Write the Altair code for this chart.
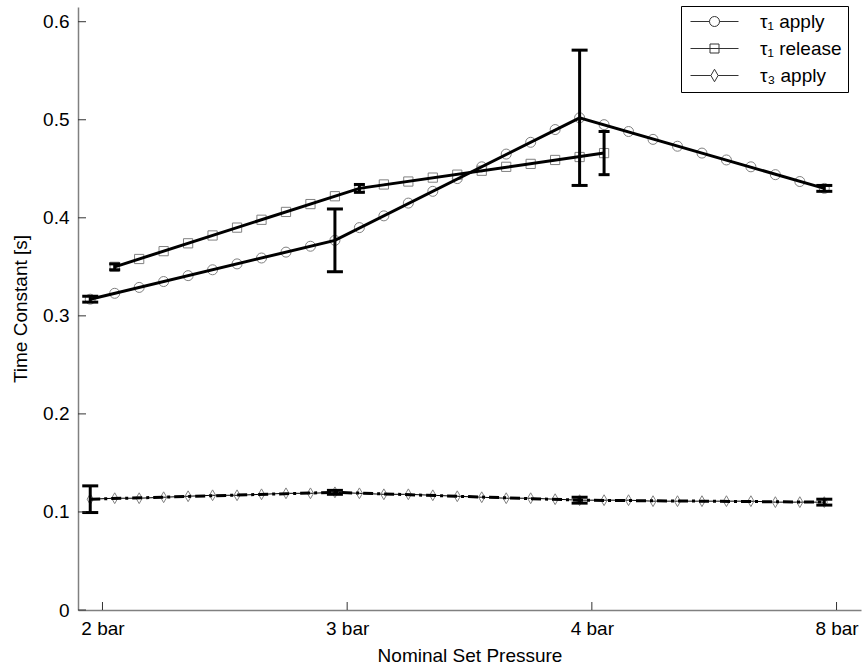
import altair as alt
import pandas as pd

series_names = ["τ₁ apply", "τ₁ release", "τ₃ apply"]
tick_values = [1, 2, 3, 4]
tick_labels = ["2 bar", "3 bar", "4 bar", "8 bar"]
y_ticks = [0, 0.1, 0.2, 0.3, 0.4, 0.5, 0.6]

# measured points: mean and half-width of error bar
apply1_x = [0.95, 1.95, 2.95, 3.95]
apply1_y = [0.317, 0.377, 0.502, 0.430]
apply1_err = [0.003, 0.032, 0.069, 0.003]

release1_x = [1.05, 2.05, 3.05]
release1_y = [0.350, 0.430, 0.466]
release1_err = [0.003, 0.004, 0.022]

apply3_x = [0.95, 1.95, 2.95, 3.95]
apply3_y = [0.113, 0.120, 0.112, 0.110]
apply3_err = [0.0136, 0.002, 0.003, 0.003]

# marker positions along the curves
apply1_mx = [0.95, 1.05, 1.15, 1.25, 1.35, 1.45, 1.55, 1.65, 1.75, 1.85, 1.95,
             2.05, 2.15, 2.25, 2.35, 2.45, 2.55, 2.65, 2.75, 2.85, 2.95,
             3.05, 3.15, 3.25, 3.35, 3.45, 3.55, 3.65, 3.75, 3.85, 3.95]
apply1_my = [0.317, 0.323, 0.329, 0.335, 0.341, 0.347, 0.353, 0.359, 0.365, 0.371, 0.377,
             0.390, 0.402, 0.415, 0.427, 0.440, 0.452, 0.465, 0.477, 0.490, 0.502,
             0.495, 0.488, 0.480, 0.473, 0.466, 0.459, 0.452, 0.444, 0.437, 0.430]

release1_mx = [1.05, 1.15, 1.25, 1.35, 1.45, 1.55, 1.65, 1.75, 1.85, 1.95, 2.05,
               2.15, 2.25, 2.35, 2.45, 2.55, 2.65, 2.75, 2.85, 2.95, 3.05]
release1_my = [0.350, 0.358, 0.366, 0.374, 0.382, 0.390, 0.398, 0.406, 0.414, 0.422, 0.430,
               0.434, 0.437, 0.441, 0.444, 0.448, 0.452, 0.455, 0.459, 0.462, 0.466]

apply3_mx = [0.95, 1.05, 1.15, 1.25, 1.35, 1.45, 1.55, 1.65, 1.75, 1.85, 1.95,
             2.05, 2.15, 2.25, 2.35, 2.45, 2.55, 2.65, 2.75, 2.85, 2.95,
             3.05, 3.15, 3.25, 3.35, 3.45, 3.55, 3.65, 3.75, 3.85, 3.95]
apply3_my = [0.113, 0.114, 0.114, 0.115, 0.116, 0.117, 0.117, 0.118, 0.119, 0.119, 0.120,
             0.119, 0.118, 0.118, 0.117, 0.116, 0.115, 0.114, 0.114, 0.113, 0.112,
             0.112, 0.112, 0.111, 0.111, 0.111, 0.111, 0.111, 0.110, 0.110, 0.110]

FONT = "Liberation Sans"

main = pd.concat([
    pd.DataFrame({"series": series_names[0], "x": apply1_x, "y": apply1_y, "err": apply1_err}),
    pd.DataFrame({"series": series_names[1], "x": release1_x, "y": release1_y, "err": release1_err}),
    pd.DataFrame({"series": series_names[2], "x": apply3_x, "y": apply3_y, "err": apply3_err}),
], ignore_index=True)

markers = pd.concat([
    pd.DataFrame({"series": series_names[0], "x": apply1_mx, "y": apply1_my}),
    pd.DataFrame({"series": series_names[1], "x": release1_mx, "y": release1_my}),
    pd.DataFrame({"series": series_names[2], "x": apply3_mx, "y": apply3_my}),
], ignore_index=True)

xs = alt.Scale(domain=[0.9, 4.1], nice=False, zero=False)
ys = alt.Scale(domain=[0, 0.615], nice=False, zero=False)

label_expr = "[" + ",".join("'%s'" % t for t in tick_labels) + "][datum.value - 1]"

X = alt.X("x:Q", scale=xs, title="Nominal Set Pressure",
          axis=alt.Axis(values=tick_values, labelExpr=label_expr, ticks=False, grid=False))
Y = alt.Y("y:Q", scale=ys, title="Time Constant [s]",
          axis=alt.Axis(values=y_ticks, format=".1~f", ticks=False, grid=False))

base_m = alt.Chart(markers)
base = alt.Chart(main)

thin_lines = base_m.mark_line(color="black", strokeWidth=1).encode(x=X, y=Y, detail="series:N")

diamond = "M0,-1.25L0.72,0L0,1.25L-0.72,0Z"
mk_apply1 = base_m.transform_filter(alt.datum.series == series_names[0]).mark_point(
    shape="circle", size=100, filled=False, color="#808080", strokeWidth=1, opacity=1).encode(x=X, y=Y)
mk_release1 = base_m.transform_filter(alt.datum.series == series_names[1]).mark_point(
    shape="square", size=85, filled=False, color="#808080", strokeWidth=1, opacity=1).encode(x=X, y=Y)
mk_apply3 = base_m.transform_filter(alt.datum.series == series_names[2]).mark_point(
    shape=diamond, size=75, filled=False, color="#808080", strokeWidth=1, opacity=1).encode(x=X, y=Y)

thick_solid = base.transform_filter(alt.datum.series != series_names[2]).mark_line(
    color="black", strokeWidth=3).encode(x=X, y=Y, detail="series:N")
thick_dash = base.transform_filter(alt.datum.series == series_names[2]).mark_line(
    color="black", strokeWidth=3, strokeDash=[10, 4, 3, 4]).encode(x=X, y=Y)

err_base = base.transform_calculate(lo="datum.y - datum.err", hi="datum.y + datum.err")
err_rule = err_base.mark_rule(color="black", strokeWidth=3).encode(
    x=X, y=alt.Y("lo:Q", scale=ys), y2="hi:Q")
cap_size = alt.condition(alt.datum.series == series_names[1], alt.value(11), alt.value(16))
cap_lo = err_base.mark_tick(color="black", thickness=3, orient="horizontal", opacity=1).encode(
    x=X, y=alt.Y("lo:Q", scale=ys), size=cap_size)
cap_hi = err_base.mark_tick(color="black", thickness=3, orient="horizontal", opacity=1).encode(
    x=X, y=alt.Y("hi:Q", scale=ys), size=cap_size)

legend_paths = [
    "M-4.8,0L-1,0M1,0L4.8,0M-1,0A1,1 0 1,0 1,0A1,1 0 1,0 -1,0",
    "M-4.8,0L4.8,0M-0.9,-0.9L0.9,-0.9L0.9,0.9L-0.9,0.9Z",
    "M-4.8,0L-0.72,0M0.72,0L4.8,0M0,-1.25L0.72,0L0,1.25L-0.72,0Z",
]
legend_layer = base.mark_point(filled=False, color="black").encode(
    x=X, y=Y,
    opacity=alt.value(0),
    shape=alt.Shape("series:N", scale=alt.Scale(domain=series_names, range=legend_paths),
                    legend=alt.Legend(
                        title=None, orient="none", legendX=603, legendY=-1,
                        padding=6, symbolSize=100, symbolOffset=18, labelOffset=36,
                        symbolStrokeColor="#333333", symbolStrokeWidth=1,
                        symbolFillColor="transparent",
                        labelFont=FONT, labelFontSize=19, labelColor="black",
                        rowPadding=7, strokeColor="black", fillColor="white",
                        cornerRadius=0)),
)

xt = pd.DataFrame({"v": tick_values})
yt = pd.DataFrame({"v": y_ticks})
x_ticks = alt.Chart(xt).mark_rule(color="#333333", strokeWidth=1).encode(
    x=alt.X("v:Q", scale=xs), y=alt.value(603), y2=alt.value(595))
y_ticks_l = alt.Chart(yt).mark_rule(color="#333333", strokeWidth=1).encode(
    y=alt.Y("v:Q", scale=ys), x=alt.value(0), x2=alt.value(8))

chart = alt.layer(
    thin_lines, mk_apply1, mk_release1, mk_apply3,
    thick_solid, thick_dash, err_rule, cap_lo, cap_hi,
    x_ticks, y_ticks_l, legend_layer,
).properties(
    width=783, height=603,
    autosize=alt.AutoSizeParams(type="none"),
    padding={"left": 78, "top": 7, "right": 3, "bottom": 61},
    background="white",
).configure_view(stroke=None).configure_axis(
    domainColor="#808080", domainWidth=1.5,
    labelFont=FONT, labelFontSize=19, labelColor="black",
    titleFont=FONT, titleFontSize=19, titleColor="black", titleFontWeight="normal",
    labelPadding=9,
).configure_axisX(titlePadding=8).configure_axisY(titlePadding=12)

chart.save("out.html", embed_options={"renderer": "svg", "actions": False})
